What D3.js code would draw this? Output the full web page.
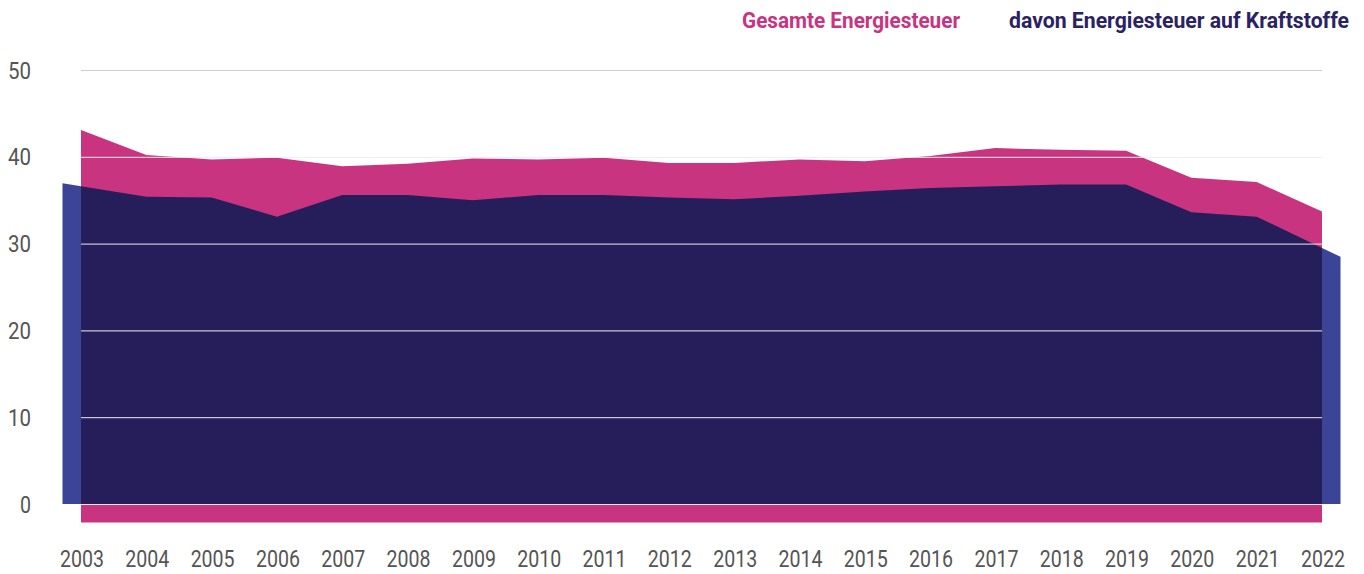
<!DOCTYPE html>
<meta charset="utf-8">
<style>
  body { margin: 0; background: #fff; }
  text { font-family: Roboto, "Noto Sans", sans-serif; }
</style>
<svg width="1364" height="574"></svg>
<script src="https://d3js.org/d3.v7.min.js"></script>
<script>

var years = d3.range(2003, 2023);
// Gesamte Energiesteuer (Mrd. Euro)
var gesamt = [43.1, 40.2, 39.7, 39.9, 38.9, 39.2, 39.8, 39.7, 39.9, 39.3,
              39.3, 39.7, 39.5, 40.1, 41.0, 40.8, 40.7, 37.6, 37.1, 33.7];
// davon Energiesteuer auf Kraftstoffe
var kraftstoffe = [36.6, 35.4, 35.3, 33.1, 35.6, 35.6, 35.0, 35.6, 35.6, 35.3,
                   35.1, 35.5, 36.0, 36.4, 36.6, 36.8, 36.8, 33.6, 33.1, 29.5];
var yTicks = [0, 10, 20, 30, 40, 50];
var legendLabels = ["Gesamte Energiesteuer", "davon Energiesteuer auf Kraftstoffe"];

var pink = "#c8347f", navy = "#251e5a", side = "#3b4497";

var svg = d3.select("svg");

var x = d3.scaleLinear().domain([2003, 2022]).range([81, 1322]);
var y = d3.scaleLinear().domain([0, 50]).range([504, 70]);
var depth = 18.5;

// side faces of the front area: the top line is carried on past both ends
var leftEdge = d3.scaleLinear().domain([x(2003), x(2004)]).range([y(kraftstoffe[0]), y(kraftstoffe[1])]);
var rightEdge = d3.scaleLinear().domain([x(2021), x(2022)]).range([y(kraftstoffe[18]), y(kraftstoffe[19])]);

var sidePts = [[x(2003) - depth, leftEdge(x(2003) - depth)]]
  .concat(years.map(function(d, i) { return [x(d), y(kraftstoffe[i])]; }))
  .concat([[x(2022) + depth, rightEdge(x(2022) + depth)]]);

svg.append("path")
    .datum(sidePts)
    .attr("fill", side)
    .attr("d", d3.area().x(function(d) { return d[0]; }).y0(y(0)).y1(function(d) { return d[1]; }));

svg.append("path")
    .datum(gesamt)
    .attr("fill", pink)
    .attr("d", d3.area()
      .x(function(d, i) { return x(years[i]); })
      .y0(y(0) + depth)
      .y1(function(d) { return y(d); }));

svg.append("path")
    .datum(kraftstoffe)
    .attr("fill", navy)
    .attr("d", d3.area()
      .x(function(d, i) { return x(years[i]); })
      .y0(y(0))
      .y1(function(d) { return y(d); }));

// grid
svg.append("g").selectAll("line")
  .data(yTicks)
  .enter().append("line")
    .attr("x1", x(2003))
    .attr("x2", x(2022))
    .attr("y1", function(d) { return y(d) + 0.5; })
    .attr("y2", function(d) { return y(d) + 0.5; })
    .attr("stroke", function(d) { return d == 50 ? "#cfcfcf" : "#eeecf3"; })
    .attr("stroke-width", 1);

// y labels
svg.append("g").selectAll("text")
  .data(yTicks)
  .enter().append("text")
    .attr("x", 31)
    .attr("y", function(d) { return y(d) + 8.5; })
    .attr("text-anchor", "end")
    .attr("font-size", 23)
    .attr("fill", "#555")
    .attr("textLength", function(d) { return d == 0 ? 11 : 23; })
    .attr("lengthAdjust", "spacingAndGlyphs")
    .text(function(d) { return d; });

// x labels
svg.append("g").selectAll("text")
  .data(years)
  .enter().append("text")
    .attr("x", function(d) { return x(d) - 21; })
    .attr("y", 567)
    .attr("font-size", 23)
    .attr("fill", "#555")
    .attr("textLength", 44)
    .attr("lengthAdjust", "spacingAndGlyphs")
    .text(function(d) { return d; });

// legend
svg.append("text")
    .attr("x", 742).attr("y", 28)
    .attr("font-size", 22).attr("font-weight", "bold")
    .attr("fill", pink)
    .attr("textLength", 218).attr("lengthAdjust", "spacingAndGlyphs")
    .text(legendLabels[0]);

svg.append("text")
    .attr("x", 1009).attr("y", 28)
    .attr("font-size", 22).attr("font-weight", "bold")
    .attr("fill", "#2a2262")
    .attr("textLength", 340).attr("lengthAdjust", "spacingAndGlyphs")
    .text(legendLabels[1]);

</script>
